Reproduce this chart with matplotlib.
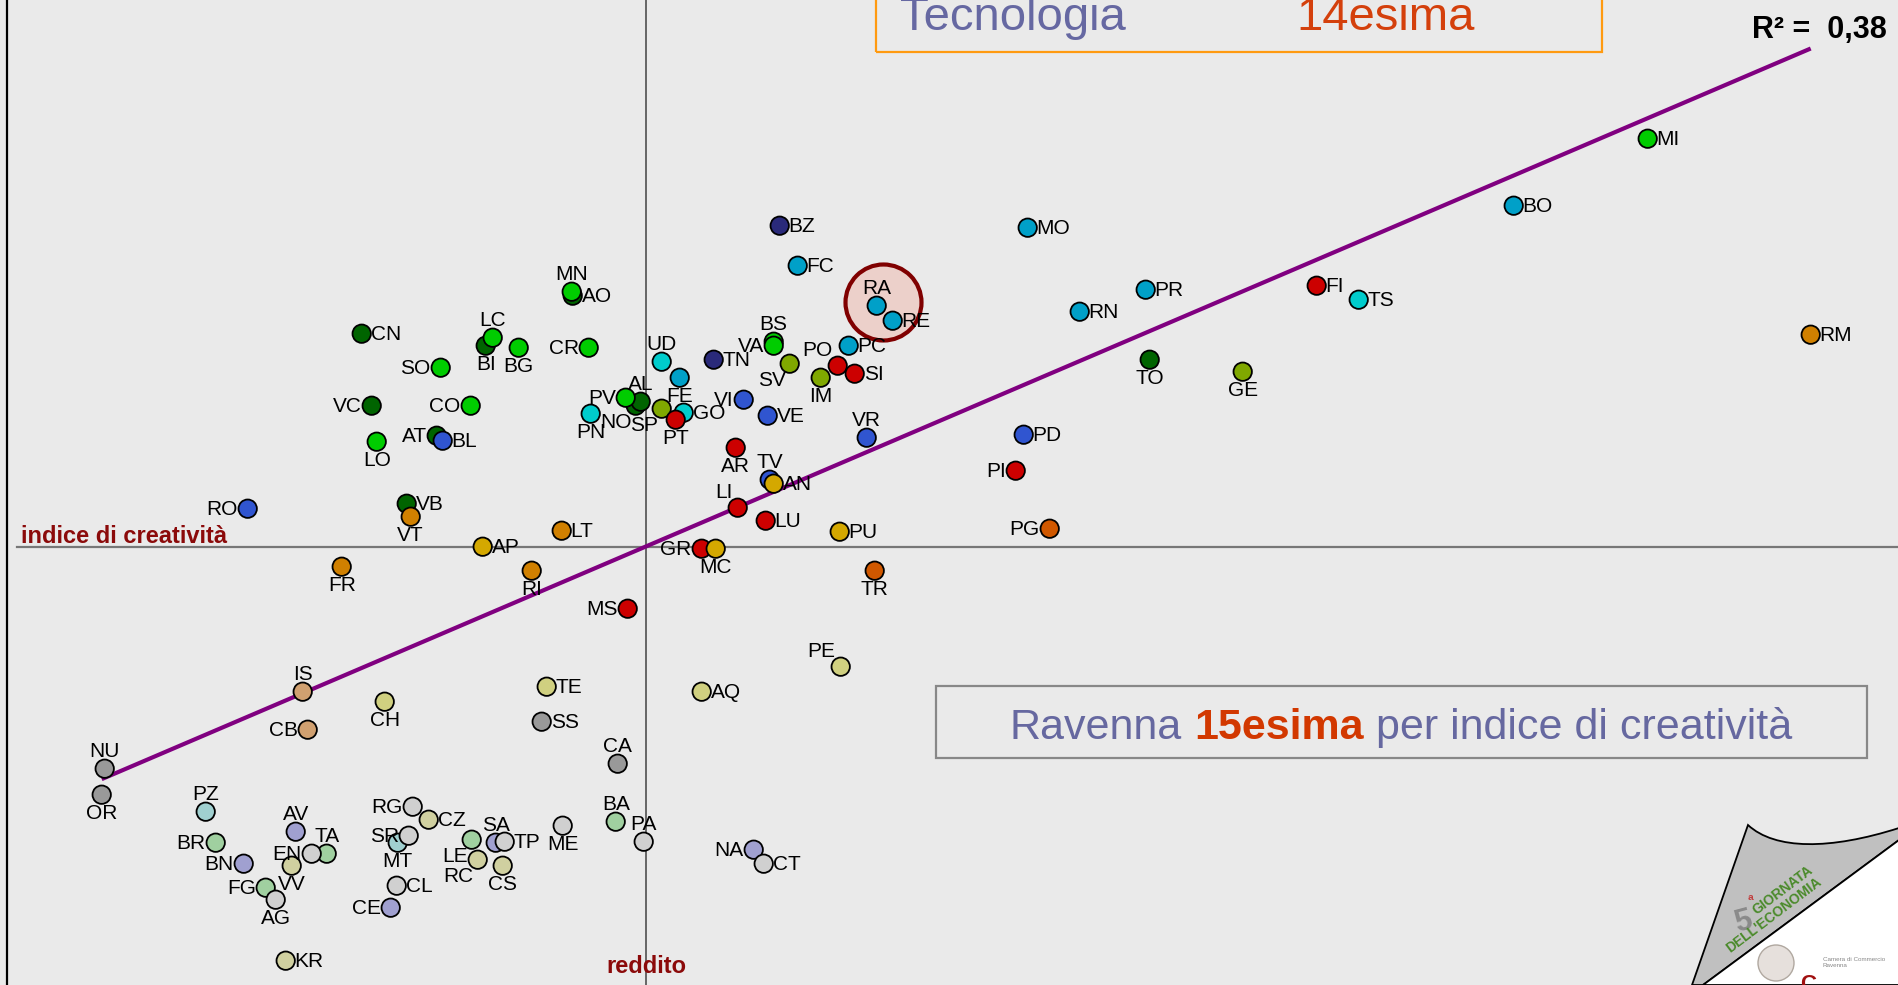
import numpy as np
import matplotlib.pyplot as plt
from matplotlib.patches import Rectangle, PathPatch, Ellipse
from matplotlib.path import Path
from matplotlib.lines import Line2D

plt.rcParams['font.family'] = ['Liberation Sans', 'DejaVu Sans']

W, H = 1899, 985

# province, grouped by region (drawing order = overlap order)
sigle = ['CN', 'VC', 'AT', 'VB', 'BI', 'NO', 'AL', 'TO', 'AO',
         'NU', 'OR', 'SS', 'CA',
         'BR', 'FG', 'TA', 'BA', 'LE',
         'PZ', 'MT',
         'AV', 'BN', 'CE', 'NA', 'SA',
         'CZ', 'VV', 'KR', 'RC', 'CS',
         'RG', 'SR', 'EN', 'AG', 'CL', 'TP', 'ME', 'PA', 'CT',
         'IS', 'CB',
         'TE', 'CH', 'AQ', 'PE',
         'BL', 'VI', 'VE', 'VR', 'TV', 'PD', 'RO',
         'BZ', 'TN',
         'UD', 'PN', 'GO', 'TS',
         'SV', 'IM', 'SP', 'GE',
         'FC', 'RA', 'RE', 'PC', 'FE', 'MO', 'PR', 'RN', 'BO',
         'PO', 'SI', 'PT', 'AR', 'LI', 'LU', 'GR', 'MS', 'PI', 'FI',
         'VT', 'RI', 'LT', 'FR', 'RM',
         'PG', 'TR',
         'AN', 'PU', 'MC', 'AP',
         'SO', 'CO', 'LO', 'LC', 'MN', 'BG', 'CR', 'PV', 'BS', 'VA', 'MI']

# reddito (x axis), standardised score
reddito = [-2.84, -2.74, -2.09, -2.39, -1.60, -0.10, -0.05, 5.04, -0.73,
           -5.41, -5.44, -1.04, -0.28,
           -4.30, -3.80, -3.19, -0.30, -1.74,
           -4.40, -2.48,
           -3.50, -4.02, -2.55, 1.08, -1.50,
           -2.17, -3.54, -3.60, -1.68, -1.43,
           -2.33, -2.37, -3.34, -3.70, -2.49, -1.41, -0.83, -0.02, 1.18,
           -3.43, -3.38,
           -0.99, -2.61, 0.56, 1.95,
           -2.03, 0.98, 1.22, 2.21, 1.24, 3.78, -3.98,
           1.34, 0.68,
           0.16, -0.55, 0.38, 7.13,
           1.44, 1.75, 0.16, 5.97,
           1.52, 2.31, 2.47, 2.03, 0.34, 3.82, 5.00, 4.34, 8.68,
           1.92, 2.09, 0.30, 0.90, 0.92, 1.20, 0.56, -0.18, 3.70, 6.71,
           -2.35, -1.14, -0.84, -3.04, 11.65,
           4.04, 2.29,
           1.28, 1.94, 0.70, -1.63,
           -2.05, -1.75, -2.69, -1.53, -0.74, -1.27, -0.57, -0.20, 1.28, 1.28, 10.02]

# indice di creatività (y axis), standardised score
creativita = [2.13, 1.41, 1.11, 0.43, 2.01, 1.41, 1.45, 1.87, 2.51,
              -2.22, -2.48, -1.75, -2.17,
              -2.96, -3.41, -3.07, -2.75, -2.93,
              -2.65, -2.96,
              -2.85, -3.17, -3.61, -3.03, -2.96,
              -2.73, -3.19, -4.14, -3.13, -3.19,
              -2.60, -2.89, -3.07, -3.53, -3.39, -2.95, -2.79, -2.95, -3.17,
              -1.45, -1.83,
              -1.40, -1.55, -1.45, -1.20,
              1.06, 1.47, 1.31, 1.09, 0.67, 1.12, 0.38,
              3.21, 1.87,
              1.85, 1.33, 1.34, 2.47,
              1.83, 1.69, 1.38, 1.75,
              2.81, 2.41, 2.26, 2.01, 1.69, 3.19, 2.57, 2.35, 3.41,
              1.81, 1.73, 1.27, 0.99, 0.39, 0.26, -0.02, -0.62, 0.76, 2.61,
              0.30, -0.24, 0.16, -0.20, 2.12,
              0.18, -0.24,
              0.63, 0.15, -0.02, 0.00,
              1.79, 1.41, 1.05, 2.09, 2.55, 1.99, 1.99, 1.49, 2.05, 2.01, 4.08]

regione = (['Piemonte'] * 8 + ['Valle d\'Aosta'] + ['Sardegna'] * 4 + ['Puglia'] * 5
           + ['Basilicata'] * 2 + ['Campania'] * 5 + ['Calabria'] * 5 + ['Sicilia'] * 9
           + ['Molise'] * 2 + ['Abruzzo'] * 4 + ['Veneto'] * 7 + ['Trentino'] * 2
           + ['Friuli'] * 4 + ['Liguria'] * 4 + ['Emilia'] * 9 + ['Toscana'] * 10
           + ['Lazio'] * 5 + ['Umbria'] * 2 + ['Marche'] * 4 + ['Lombardia'] * 11)

r2_testo = '0,38'

colori = {'Piemonte': '#006400', 'Valle d\'Aosta': '#006400', 'Lombardia': '#00cc00',
          'Trentino': '#2a2a7a', 'Veneto': '#3055d0', 'Friuli': '#00cccc',
          'Liguria': '#80a800', 'Emilia': '#00a0c8', 'Toscana': '#cc0000',
          'Marche': '#d4a800', 'Umbria': '#d05800', 'Lazio': '#d08000',
          'Abruzzo': '#d0d080', 'Molise': '#d0a070', 'Campania': '#a0a0d0',
          'Puglia': '#a0d0a0', 'Basilicata': '#a0d0d0', 'Calabria': '#d0d0a0',
          'Sicilia': '#d0d0d0', 'Sardegna': '#999999'}

# where the label sits relative to its point (default: right)
label_pos = {'VC': 'l', 'AT': 'l', 'BI': 'b', 'NO': 'bl', 'AL': 'a', 'TO': 'b',
             'NU': 'a', 'OR': 'b', 'CA': 'a', 'BR': 'l', 'FG': 'l', 'TA': 'a', 'BA': 'a',
             'LE': 'bl', 'PZ': 'a', 'MT': 'b', 'AV': 'a', 'BN': 'l', 'CE': 'l', 'NA': 'l',
             'SA': 'a', 'VV': 'b', 'RC': 'bl', 'CS': 'b', 'RG': 'l', 'SR': 'l', 'EN': 'l',
             'AG': 'b', 'ME': 'b', 'PA': 'a', 'IS': 'a', 'CB': 'l', 'CH': 'b', 'PE': 'al',
             'VI': 'l', 'VR': 'a', 'TV': 'a', 'RO': 'l', 'UD': 'a', 'PN': 'b', 'SV': 'bl',
             'IM': 'b', 'SP': 'bl', 'GE': 'b', 'RA': 'a', 'FE': 'b', 'PO': 'al', 'PT': 'b',
             'AR': 'b', 'LI': 'al', 'GR': 'l', 'MS': 'l', 'PI': 'l', 'VT': 'b', 'RI': 'b',
             'FR': 'b', 'PG': 'l', 'TR': 'b', 'MC': 'b', 'SO': 'l', 'CO': 'l', 'LO': 'b',
             'LC': 'a', 'MN': 'a', 'BG': 'b', 'CR': 'l', 'PV': 'l', 'VA': 'l', 'BS': 'a'}
offsets = {'r': (9, -1, 'left', 'center'), 'l': (-10, -1, 'right', 'center'),
           'a': (0, 8, 'center', 'bottom'), 'b': (0, -9, 'center', 'top'),
           'al': (-5, 6, 'right', 'bottom'), 'bl': (-4, -7, 'right', 'top')}


def fx(px):
    return px / W


def fy(py):
    return 1 - py / H


bg = '#eaeaea'
fig = plt.figure(figsize=(W / 100, H / 100), dpi=100, facecolor=bg)
ax = fig.add_axes([0, 0, 1, 1])
x0, y0 = 645.7, 546.7  # pixel position of the origin, 100 px per unit
ax.set_xlim(-x0 / 100, (W - x0) / 100)
ax.set_ylim(-(H - y0) / 100, y0 / 100)
ax.axis('off')

# quadrant axes
ax.axhline(0, xmin=16.7 / W, color='#777777', lw=1.6, zorder=1)
ax.axvline(0, color='#666666', lw=1.4, zorder=1)
fig.add_artist(Line2D([fx(7), fx(7)], [0, 1], color='black', lw=1.6))

# linear trend
slope, intercept = np.polyfit(reddito, creativita, 1)
xs = np.array([min(reddito), max(reddito)])
ax.plot(xs, slope * xs + intercept, color='#800080', lw=3, zorder=2, solid_capstyle='butt')

# Ravenna highlight ring
i = sigle.index('RA')
ax.scatter(reddito[i] + 0.06, creativita[i] + 0.04, s=(76 * 0.72) ** 2, facecolor='#ecd0ca',
           edgecolor='#800000', linewidths=3, zorder=3)

ax.scatter(reddito, creativita, s=175, c=[colori[r] for r in regione],
           edgecolors='black', linewidths=1.3, zorder=4)

for s, x, y in zip(sigle, reddito, creativita):
    dx, dy, ha, va = offsets[label_pos.get(s, 'r')]
    ax.annotate(s, (x, y), xytext=(dx, dy), textcoords='offset pixels',
                ha=ha, va=va, fontsize=15, zorder=5)

# axis names
fig.text(fx(21), fy(543), 'indice di creatività', fontsize=17, fontweight='bold',
         color='#8b0a0a', va='baseline')
fig.text(fx(646), fy(973), 'reddito', fontsize=17, fontweight='bold',
         color='#8b0a0a', va='baseline', ha='center')

# top banner
fig.add_artist(Rectangle((fx(876), fy(51.7)), fx(1602) - fx(876), 0.1,
                         transform=fig.transFigure, fill=False, edgecolor='#ff9a10', lw=1.6))
fig.text(fx(900), fy(30), 'Tecnologia', fontsize=34, color='#6668a2', va='baseline')
fig.text(fx(1296), fy(30), '14esima', fontsize=34, color='#d4400c', va='baseline')

fig.text(fx(1887), fy(38), 'R² =  ' + r2_testo, fontsize=22, fontweight='bold',
         ha='right', va='baseline')

# Ravenna box
fig.add_artist(Rectangle((fx(936), fy(758.3)), fx(1866.7) - fx(936), (758.3 - 685.7) / H,
                         transform=fig.transFigure, fill=False, edgecolor='#888888', lw=1.6))
t1 = fig.text(fx(1010), fy(739), 'Ravenna', fontsize=31, color='#6668a0', va='baseline')
t2 = ax.annotate('15esima', xy=(1, 0), xycoords=t1, xytext=(12, 0), textcoords='offset pixels',
                 fontsize=31, fontweight='bold', color='#d23800', va='bottom')
ax.annotate('per indice di creatività', xy=(1, 0), xycoords=t2, xytext=(12, 0),
            textcoords='offset pixels', fontsize=31, color='#6668a0', va='bottom')


# page-curl logo in the corner
def pts(p):
    return [(fx(a), fy(b)) for a, b in p]


curl = Path(pts([(1748, 825), (1775, 850), (1830, 850), (1899, 828), (1899, 840),
                 (1703, 985), (1692, 985), (1748, 825)]),
            [Path.MOVETO, Path.CURVE4, Path.CURVE4, Path.CURVE4, Path.LINETO,
             Path.LINETO, Path.LINETO, Path.CLOSEPOLY])
fig.add_artist(PathPatch(curl, transform=fig.transFigure, facecolor='#c0c0c0',
                         edgecolor='black', lw=1.3))
white = Path(pts([(1899, 840), (1703, 985), (1899, 985), (1899, 840)]),
             [Path.MOVETO, Path.LINETO, Path.LINETO, Path.CLOSEPOLY])
fig.add_artist(PathPatch(white, transform=fig.transFigure, facecolor='white',
                         edgecolor='black', lw=1.3))
fig.text(fx(1731), fy(932), '5', fontsize=22, color='#8a8a8a', fontweight='bold', rotation=15)
fig.text(fx(1748), fy(905), 'ª', fontsize=11, color='#c04040', fontweight='bold')
fig.text(fx(1756), fy(915), 'GIORNATA', fontsize=10, color='#4a8a2a', fontweight='bold',
         rotation=37, rotation_mode='anchor')
fig.text(fx(1730), fy(953), "DELL'ECONOMIA", fontsize=10, color='#4a8a2a', fontweight='bold',
         rotation=37, rotation_mode='anchor')
fig.add_artist(Ellipse((fx(1776), fy(963)), 36 / W, 36 / H, transform=fig.transFigure,
                       facecolor='#e6e0dc', edgecolor='#b0a8a0', lw=1))
fig.text(fx(1823), fy(967), 'Camera di Commercio\nRavenna', fontsize=4.5, color='#888888')
fig.text(fx(1800), fy(990), 'C', fontsize=16, color='#a01010', fontweight='bold')

fig.savefig('out.png', dpi=100, facecolor=bg)
